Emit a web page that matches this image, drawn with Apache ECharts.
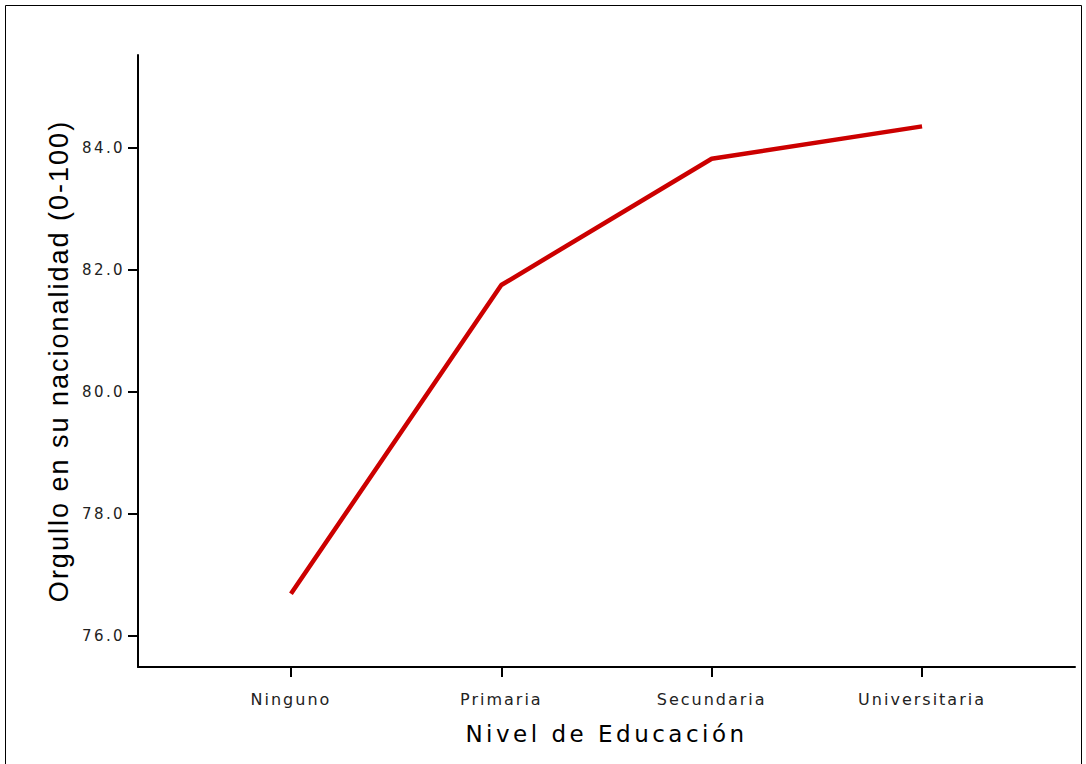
<!DOCTYPE html>
<html>
<head>
<meta charset="utf-8">
<script src="https://cdn.jsdelivr.net/npm/echarts@6/dist/echarts.min.js"></script>
<style>
html, body { margin: 0; padding: 0; background: #fff; }
#chart { width: 1086px; height: 764px; }
#chart text[style*="15px"] { letter-spacing: 2.4px; }
#chart text[style*="16px"] { letter-spacing: 2px; }
#chart text[style*="23px"] { letter-spacing: 3.5px; }
#chart text[style*="27px"] { letter-spacing: 2px; }
</style>
</head>
<body>
<div id="chart"></div>
<script>
const categories = ['Ninguno', 'Primaria', 'Secundaria', 'Universitaria'];
const values = [76.69, 81.75, 83.82, 84.35];
const yTicks = [76, 78, 80, 82, 84];
const xTitle = 'Nivel de Educación';
const yTitle = 'Orgullo en su nacionalidad (0-100)';

const chart = echarts.init(document.getElementById('chart'), null, { renderer: 'svg' });
const fontLabel = 'DejaVu Sans';
const fontTitle = 'Liberation Sans';
chart.setOption({
  animation: false,
  backgroundColor: '#ffffff',
  graphic: [{
    type: 'rect',
    shape: { x: 5.5, y: 5.5, width: 1076, height: 800 },
    style: { fill: 'none', stroke: '#000', lineWidth: 1 },
    silent: true
  }],
  grid: { left: 138, right: 11, top: 55, bottom: 97 },
  xAxis: {
    type: 'value',
    min: -0.727,
    max: 3.727,
    name: xTitle,
    nameLocation: 'middle',
    nameGap: 67,
    nameTextStyle: { fontFamily: fontLabel, fontSize: 23, color: '#000', verticalAlign: 'middle', padding: [0, 0, 0, 0] },
    axisLine: { show: true, onZero: false, lineStyle: { color: '#000', width: 2 } },
    axisTick: { show: true, length: 10, customValues: [0, 1, 2, 3], lineStyle: { color: '#000', width: 2 } },
    axisLabel: {
      customValues: [0, 1, 2, 3],
      formatter: v => categories[Math.round(v)] || '',
      fontFamily: fontLabel, fontSize: 16, color: '#222', margin: 24
    },
    splitLine: { show: false }
  },
  yAxis: {
    type: 'value',
    min: 75.49,
    max: 85.52,
    name: yTitle,
    nameLocation: 'middle',
    nameGap: 79,
    nameTextStyle: { fontFamily: fontTitle, fontSize: 27, color: '#000', verticalAlign: 'middle' },
    axisLine: { show: true, onZero: false, lineStyle: { color: '#000', width: 2 } },
    axisTick: { show: true, length: 10, customValues: yTicks, lineStyle: { color: '#000', width: 2 } },
    axisLabel: {
      customValues: yTicks,
      formatter: v => Number(v).toFixed(1),
      fontFamily: fontLabel, fontSize: 15, color: '#222', margin: 13
    },
    splitLine: { show: false }
  },
  series: [{
    type: 'line',
    data: values.map((v, i) => [i, v]),
    showSymbol: false,
    symbol: 'none',
    lineStyle: { color: '#cc0000', width: 4.5 },
    itemStyle: { color: '#cc0000' }
  }]
});
</script>
</body>
</html>
